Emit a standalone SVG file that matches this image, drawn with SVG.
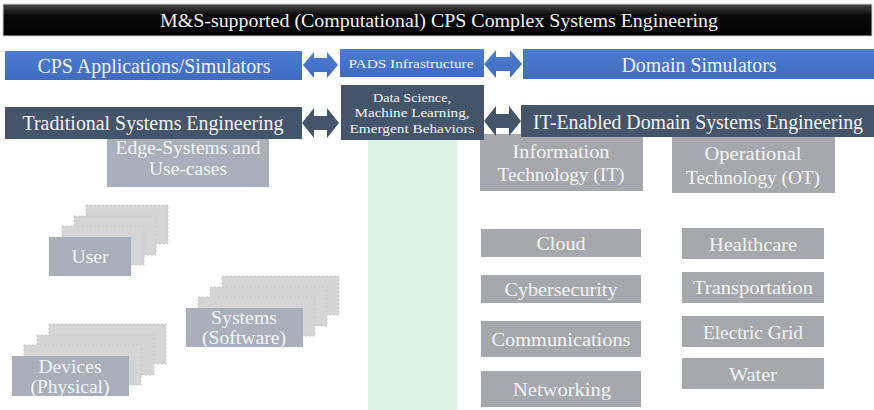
<svg xmlns="http://www.w3.org/2000/svg" width="874" height="410" viewBox="0 0 874 410">
<defs>
<linearGradient id="gTitle" x1="0" y1="0" x2="0" y2="1">
<stop offset="0" stop-color="#4a4a4a"/>
<stop offset="0.35" stop-color="#0a0a0a"/>
<stop offset="1" stop-color="#000"/>
</linearGradient>
<linearGradient id="gBlue" x1="0" y1="0" x2="0" y2="1">
<stop offset="0" stop-color="#4d7bd0"/>
<stop offset="1" stop-color="#3f6cbf"/>
</linearGradient>
<style>
text{font-family:"Liberation Serif","Times New Roman",serif;text-anchor:middle;fill:#f4f5f7}
.blue{fill:url(#gBlue)}
.dark{fill:#44546a}
.grayR{fill:#a6a8ad}
.grayL{fill:#a9afbb}
.back{fill:#d5d5d5;stroke:#cacaca;stroke-width:1;stroke-dasharray:2 2}
.big{font-size:20.5px}
.mid{font-size:19px}
.small{font-size:13.5px}
</style>
</defs>
<rect width="874" height="410" fill="#ffffff"/>

<g id="title">
<rect x="3" y="4" width="869" height="32" fill="url(#gTitle)" stroke="#cfcfcf" stroke-width="1"/>
<text x="439" y="26.5" font-size="19.5" textLength="558" lengthAdjust="spacingAndGlyphs">M&amp;S-supported (Computational) CPS Complex Systems Engineering</text>
</g>

<g id="green-column">
<rect x="368" y="140" width="89" height="270" fill="#d9f2e4"/>
</g>

<g id="edge-systems">
<rect class="grayL" x="107" y="134" width="162" height="53"/>
<text class="mid" x="188" y="154" textLength="145" lengthAdjust="spacingAndGlyphs">Edge-Systems and</text>
<text class="mid" x="188" y="175" textLength="78" lengthAdjust="spacingAndGlyphs">Use-cases</text>
</g>

<g id="user">
<rect class="back" x="86" y="205" width="82" height="39"/>
<rect class="back" x="74" y="216" width="82" height="39"/>
<rect class="back" x="62" y="226" width="82" height="39"/>
<rect class="grayL" x="49" y="237" width="82" height="39"/>
<text class="mid" x="90" y="263" textLength="37" lengthAdjust="spacingAndGlyphs">User</text>
</g>

<g id="systems">
<rect class="back" x="222" y="276" width="117" height="39"/>
<rect class="back" x="210" y="287" width="117" height="39"/>
<rect class="back" x="198" y="297" width="117" height="39"/>
<rect class="grayL" x="186" y="308" width="117" height="39"/>
<text class="mid" x="244" y="324" textLength="66" lengthAdjust="spacingAndGlyphs">Systems</text>
<text class="mid" x="244" y="344" textLength="84" lengthAdjust="spacingAndGlyphs">(Software)</text>
</g>

<g id="devices">
<rect class="back" x="49" y="324" width="117" height="40"/>
<rect class="back" x="37" y="335" width="117" height="40"/>
<rect class="back" x="24" y="345" width="117" height="40"/>
<rect class="grayL" x="12" y="356" width="117" height="40"/>
<text class="mid" x="70" y="373" textLength="63" lengthAdjust="spacingAndGlyphs">Devices</text>
<text class="mid" x="70" y="393" textLength="79" lengthAdjust="spacingAndGlyphs">(Physical)</text>
</g>

<g id="it">
<rect class="grayR" x="480" y="134" width="163" height="57"/>
<text class="mid" x="561" y="158" textLength="97" lengthAdjust="spacingAndGlyphs">Information</text>
<text class="mid" x="561" y="181" textLength="127" lengthAdjust="spacingAndGlyphs">Technology (IT)</text>
</g>

<g id="ot">
<rect class="grayR" x="672" y="134" width="163" height="59"/>
<text class="mid" x="753" y="160" textLength="97" lengthAdjust="spacingAndGlyphs">Operational</text>
<text class="mid" x="753" y="184" textLength="134" lengthAdjust="spacingAndGlyphs">Technology (OT)</text>
</g>

<g id="cloud"><rect class="grayR" x="481" y="229" width="160" height="28"/><text class="mid" x="561" y="250" textLength="49" lengthAdjust="spacingAndGlyphs">Cloud</text></g>
<g id="cybersecurity"><rect class="grayR" x="481" y="275" width="160" height="28"/><text class="mid" x="561" y="296" textLength="113" lengthAdjust="spacingAndGlyphs">Cybersecurity</text></g>
<g id="communications"><rect class="grayR" x="481" y="321" width="160" height="36"/><text class="mid" x="561" y="346" textLength="139" lengthAdjust="spacingAndGlyphs">Communications</text></g>
<g id="networking"><rect class="grayR" x="481" y="371" width="160" height="36"/><text class="mid" x="562" y="396" textLength="98" lengthAdjust="spacingAndGlyphs">Networking</text></g>

<g id="healthcare"><rect class="grayR" x="682" y="228" width="142" height="31"/><text class="mid" x="753" y="251" textLength="88" lengthAdjust="spacingAndGlyphs">Healthcare</text></g>
<g id="transportation"><rect class="grayR" x="682" y="272" width="142" height="31"/><text class="mid" x="753" y="294" textLength="120" lengthAdjust="spacingAndGlyphs">Transportation</text></g>
<g id="electric-grid"><rect class="grayR" x="682" y="316" width="142" height="31"/><text class="mid" x="753" y="339" textLength="100" lengthAdjust="spacingAndGlyphs">Electric Grid</text></g>
<g id="water"><rect class="grayR" x="682" y="358" width="142" height="31"/><text class="mid" x="753" y="381" textLength="48" lengthAdjust="spacingAndGlyphs">Water</text></g>

<g id="cps-applications">
<rect class="blue" x="5" y="51" width="297" height="29"/>
<text class="big" x="154" y="72.5" textLength="233" lengthAdjust="spacingAndGlyphs">CPS Applications/Simulators</text>
</g>

<g id="pads">
<rect class="blue" x="340" y="49" width="144" height="28"/>
<text class="small" x="411" y="67.5" textLength="125" lengthAdjust="spacingAndGlyphs">PADS Infrastructure</text>
</g>

<g id="domain-simulators">
<rect class="blue" x="523" y="49" width="351" height="30"/>
<text class="big" x="699" y="71.5" textLength="155" lengthAdjust="spacingAndGlyphs">Domain Simulators</text>
</g>

<g id="traditional-se">
<rect class="dark" x="5" y="107" width="297" height="32"/>
<text class="big" x="153" y="130" textLength="261" lengthAdjust="spacingAndGlyphs">Traditional Systems Engineering</text>
</g>

<g id="data-science">
<rect class="dark" x="341" y="85" width="143" height="55"/>
<text class="small" x="412" y="101.5" textLength="78" lengthAdjust="spacingAndGlyphs">Data Science,</text>
<text class="small" x="412" y="117" textLength="115" lengthAdjust="spacingAndGlyphs">Machine Learning,</text>
<text class="small" x="412" y="132.5" textLength="125" lengthAdjust="spacingAndGlyphs">Emergent Behaviors</text>
</g>

<g id="it-enabled-se">
<rect class="dark" x="521" y="105" width="353" height="32"/>
<text class="big" x="698" y="128.5" textLength="330" lengthAdjust="spacingAndGlyphs">IT-Enabled Domain Systems Engineering</text>
</g>

<g id="connectors">
<polygon class="blue" points="303,65 314,52 314,58 327,58 327,52 338,65 327,78 327,72 314,72 314,78"/>
<polygon class="blue" points="484,64 496,50 496,57 510,57 510,50 522,64 510,78 510,71 496,71 496,78"/>
<polygon class="dark" points="302,123 314,108 314,116 327,116 327,108 339,123 327,138 327,130 314,130 314,138"/>
<polygon class="dark" points="484,121 496,106 496,114 509,114 509,106 521,121 509,136 509,128 496,128 496,136"/>
</g>
</svg>
